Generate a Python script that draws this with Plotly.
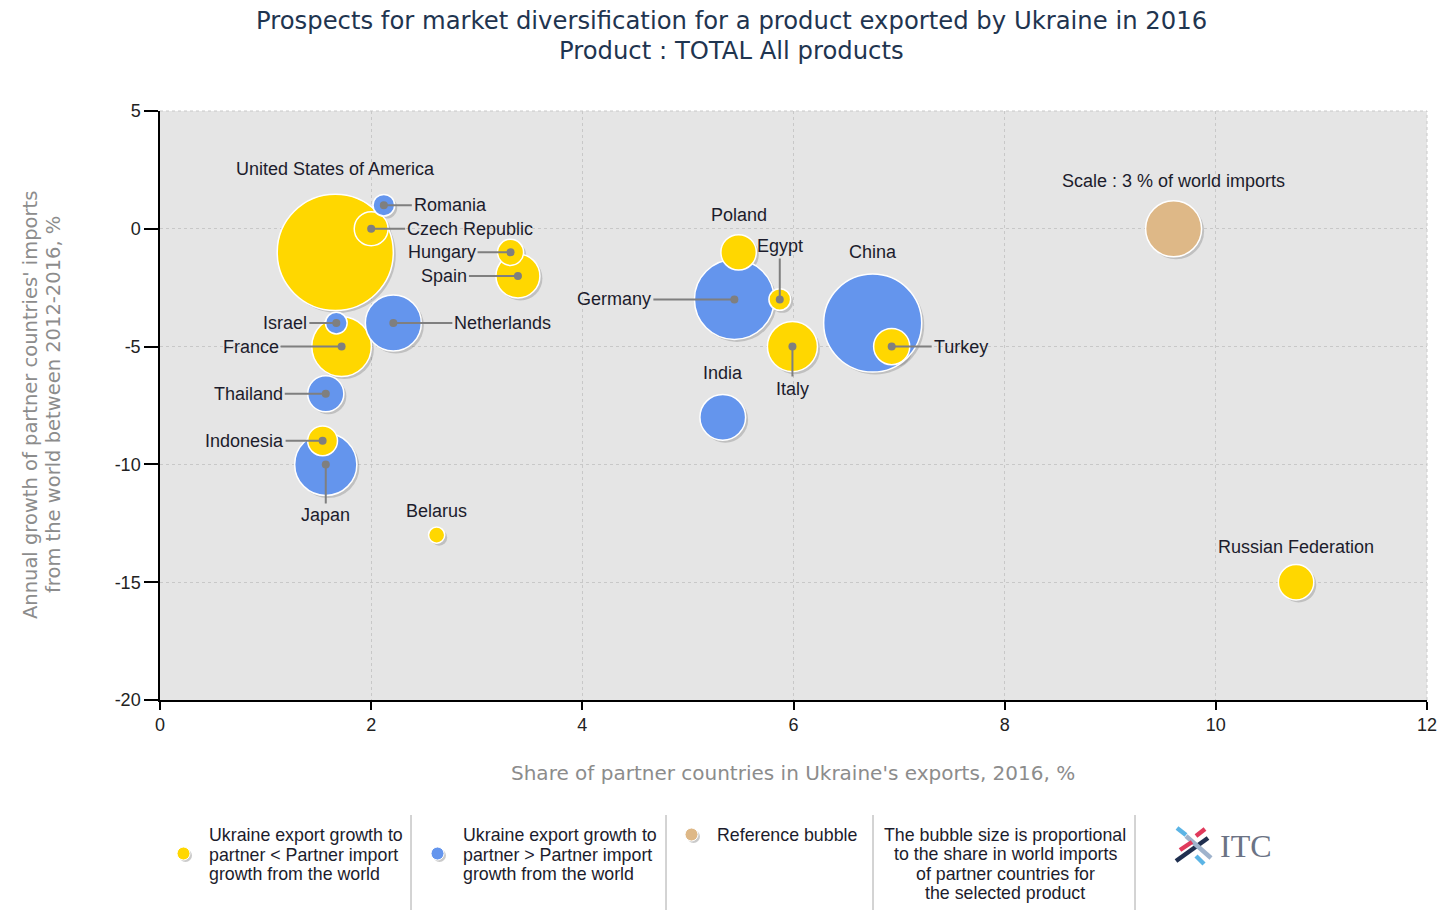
import plotly.graph_objects as go

# ---------------- data ----------------
countries = ["United States of America", "Romania", "Czech Republic", "Hungary", "Spain",
             "Israel", "Netherlands", "France", "Thailand", "Indonesia", "Japan", "Belarus",
             "Poland", "Egypt", "Germany", "Italy", "China", "Turkey", "India",
             "Russian Federation"]
share_in_exports = [1.66, 2.12, 2.00, 3.32, 3.39, 1.67, 2.21, 1.72, 1.57, 1.54, 1.57, 2.62,
                    5.48, 5.87, 5.44, 5.99, 6.75, 6.93, 5.33, 10.76]
import_growth = [-1, 1, 0, -1, -2, -4, -4, -5, -7, -9, -10, -13,
                 -1, -3, -3, -5, -4, -5, -8, -15]
world_import_share = [12.9, 0.45, 1.1, 0.65, 1.85, 0.45, 3.0, 3.4, 1.25, 0.85, 3.7, 0.25,
                      1.2, 0.45, 6.1, 2.4, 9.2, 1.25, 2.0, 1.2]
# "lower": Ukraine export growth < partner import growth ; "higher": the opposite
growth_group = ["lower", "higher", "lower", "lower", "lower", "higher", "higher", "lower",
                "higher", "lower", "higher", "lower", "lower", "lower", "higher", "lower",
                "higher", "lower", "higher", "lower"]

reference_label = "Scale : 3 % of world imports"
reference_x = [9.6]
reference_y = [0]
reference_size = [3]

x_ticks = [0, 2, 4, 6, 8, 10, 12]
y_ticks = [5, 0, -5, -10, -15, -20]

# ---------------- styles ----------------
COLORS = {"lower": "#FFD700", "higher": "#6495ED", "reference": "#DEB887"}
SIZEREF = 4 * 3 / (2 * 56 ** 2)

L, R, T, B = 160, 13, 111, 210
W, H = 1440, 910
PW, PH = W - L - R, H - T - B
XR, YR = (0, 12), (-20, 5)


def px(x):
    return (x - L) / PW


def py(y):
    return (H - B - y) / PH


# label placement: (kind, ax, ay, xanchor, yanchor) or ("above", shift)
label_pos = {
    "United States of America": ("above", 83),
    "Romania": ("arrow", 28, 0, "left", "middle"),
    "Czech Republic": ("arrow", 34, 0, "left", "middle"),
    "Hungary": ("arrow", -33, 0, "right", "middle"),
    "Spain": ("arrow", -49, 0, "right", "middle"),
    "Israel": ("arrow", -27, 0, "right", "middle"),
    "Netherlands": ("arrow", 59, 0, "left", "middle"),
    "France": ("arrow", -61, 0, "right", "middle"),
    "Thailand": ("arrow", -41, 0, "right", "middle"),
    "Indonesia": ("arrow", -37, 0, "right", "middle"),
    "Japan": ("arrow", 0, 39, "center", "top"),
    "Belarus": ("above", 24),
    "Poland": ("above", 37),
    "Egypt": ("arrow", 0, -41, "center", "bottom"),
    "Germany": ("arrow", -81, 0, "right", "middle"),
    "Italy": ("arrow", 0, 30, "center", "top"),
    "China": ("above", 71),
    "Turkey": ("arrow", 40, 0, "left", "middle"),
    "India": ("above", 44),
    "Russian Federation": ("above", 35),
}

LABEL_FONT = dict(family="Liberation Sans, Arial, sans-serif", size=18, color="#1c1c2c")

# draw order: largest first so small bubbles sit on top
order = sorted(range(len(countries)), key=lambda i: -world_import_share[i])
ox = [share_in_exports[i] for i in order]
oy = [import_growth[i] for i in order]
os_ = [world_import_share[i] for i in order]
oc = [COLORS[growth_group[i]] for i in order]
on = [countries[i] for i in order]

dx = 2.5 * (XR[1] - XR[0]) / PW
dy = -2.5 * (YR[1] - YR[0]) / PH

fig = go.Figure()

# shadows
fig.add_trace(go.Scatter(
    x=[v + dx for v in ox + reference_x], y=[v + dy for v in oy + reference_y],
    mode="markers", hoverinfo="skip", showlegend=False,
    marker=dict(size=os_ + reference_size, sizemode="area", sizeref=SIZEREF,
                color="rgba(80,80,80,0.35)", line=dict(width=0))))

fig.add_trace(go.Scatter(
    x=reference_x, y=reference_y, mode="markers", showlegend=False,
    hovertext=[reference_label],
    marker=dict(size=reference_size, sizemode="area", sizeref=SIZEREF,
                color=COLORS["reference"], opacity=1,
                line=dict(color="white", width=1.5))))

fig.add_trace(go.Scatter(
    x=ox, y=oy, mode="markers", showlegend=False, hovertext=on,
    marker=dict(size=os_, sizemode="area", sizeref=SIZEREF, color=oc, opacity=1,
                line=dict(color="white", width=1.5))))

annotations = []
for i, name in enumerate(countries):
    p = label_pos[name]
    if p[0] == "above":
        annotations.append(dict(x=share_in_exports[i], y=import_growth[i], xref="x", yref="y",
                                text=name, showarrow=False, yshift=p[1], font=LABEL_FONT))
    else:
        _, ax, ay, xa, ya = p
        annotations.append(dict(x=share_in_exports[i], y=import_growth[i], xref="x", yref="y",
                                text=name, showarrow=True, ax=ax, ay=ay, axref="pixel",
                                ayref="pixel", xanchor=xa, yanchor=ya, arrowhead=6,
                                arrowsize=1, arrowwidth=2, arrowcolor="#7f7f7f",
                                standoff=0, startstandoff=0, borderpad=1, font=LABEL_FONT))

annotations.append(dict(x=reference_x[0], y=reference_y[0], xref="x", yref="y",
                        text=reference_label, showarrow=False, yshift=48, font=LABEL_FONT))


def text_at(x, y, text, font, xanchor="center", textangle=0):
    annotations.append(dict(x=px(x), y=py(y), xref="paper", yref="paper", showarrow=False,
                            text=text, font=font, xanchor=xanchor, yanchor="middle",
                            textangle=textangle))


# titles
TITLE_FONT = dict(family="DejaVu Sans, Verdana, sans-serif", size=24.3, color="#1f3550")
text_at(731, 21, "Prospects for market diversification for a product exported by Ukraine in 2016",
        TITLE_FONT)
text_at(731, 50, "Product : TOTAL All products", TITLE_FONT)

text_at(793, 773, "Share of partner countries in Ukraine's exports, 2016, %",
        dict(family="DejaVu Sans, Verdana, sans-serif", size=20, color="#8c8c8c"))
text_at(30, 405, "Annual growth of partner countries' imports",
        dict(family="DejaVu Sans, Verdana, sans-serif", size=19.5, color="#8c8c8c"),
        textangle=-90)
text_at(53, 405, "from the world between 2012-2016, %",
        dict(family="DejaVu Sans, Verdana, sans-serif", size=19.5, color="#8c8c8c"),
        textangle=-90)

# custom legend
LEG_FONT = dict(family="Liberation Sans, Arial, sans-serif", size=17.8, color="#1c1c2c")
leg_items = [
    (184, 854, COLORS["lower"], 207, [835, 855, 874],
     ["Ukraine export growth to", "partner < Partner import", "growth from the world"]),
    (438, 854, COLORS["higher"], 461, [835, 855, 874],
     ["Ukraine export growth to", "partner > Partner import", "growth from the world"]),
    (692, 835, COLORS["reference"], 715, [835], ["Reference bubble"]),
]
shapes = []
for cx, cy, col, tx, tys, lines in leg_items:
    shapes.append(dict(type="circle", xref="paper", yref="paper",
                       x0=px(cx - 5), x1=px(cx + 8), y0=py(cy - 5), y1=py(cy + 8),
                       fillcolor="rgba(80,80,80,0.3)", line=dict(width=0)))
    shapes.append(dict(type="circle", xref="paper", yref="paper",
                       x0=px(cx - 7), x1=px(cx + 6), y0=py(cy - 7), y1=py(cy + 6),
                       fillcolor=col, line=dict(color="white", width=1)))
    for ty, line in zip(tys, lines):
        text_at(tx, ty, line, LEG_FONT, xanchor="left")
for ty, line in zip([835, 854, 874, 893],
                    ["The bubble size is proportional", "to the share in world imports",
                     "of partner countries for", "the selected product"]):
    text_at(1005, ty, line, LEG_FONT)
for sx in [411, 666, 873, 1135]:
    shapes.append(dict(type="line", xref="paper", yref="paper", x0=px(sx), x1=px(sx),
                       y0=py(815), y1=py(910), line=dict(color="#a8a8a8", width=1)))

# ITC logo
logo_bars = [
    ((1177, 828), (1186, 835), "#5bb4e5"),
    ((1196, 836), (1205, 829), "#e03a5c"),
    ((1176, 861), (1208, 838), "#1f2f4f"),
    ((1186, 836), (1211, 858), "#9fb3cc"),
    ((1180, 850), (1192, 842), "#e03a5c"),
    ((1196, 856), (1204, 864), "#5bb4e5"),
]
for (x0, y0), (x1, y1), col in logo_bars:
    shapes.append(dict(type="line", xref="paper", yref="paper", x0=px(x0), y0=py(y0),
                       x1=px(x1), y1=py(y1), line=dict(color=col, width=4.5)))
text_at(1218, 846, "ITC",
        dict(family="Liberation Serif, DejaVu Serif, serif", size=32, color="#6b7384"),
        xanchor="left")

# plot border (top / right dotted)
shapes.append(dict(type="line", xref="paper", yref="paper", x0=0, x1=1, y0=1, y1=1,
                   line=dict(color="#c8c8c8", width=1, dash="dot")))
shapes.append(dict(type="line", xref="paper", yref="paper", x0=1, x1=1, y0=0, y1=1,
                   line=dict(color="#c8c8c8", width=1, dash="dot")))

TICK_FONT = dict(family="Liberation Sans, Arial, sans-serif", size=18, color="#222222")
fig.update_layout(
    width=W, height=H, margin=dict(l=L, r=R, t=T, b=B, autoexpand=False),
    paper_bgcolor="white", plot_bgcolor="#e5e5e5",
    showlegend=False, annotations=annotations, shapes=shapes,
    xaxis=dict(range=list(XR), tickvals=x_ticks, ticktext=[str(v) for v in x_ticks],
               showline=True, linecolor="black", linewidth=1.5, ticks="outside",
               ticklen=8, tickcolor="black", tickwidth=1.5, tickfont=TICK_FONT,
               showgrid=True, gridcolor="#c8c8c8", griddash="dot", gridwidth=1,
               zeroline=False, fixedrange=True, automargin=False),
    yaxis=dict(range=list(YR), tickvals=y_ticks, ticktext=[str(v) for v in y_ticks],
               showline=True, linecolor="black", linewidth=1.5, ticks="outside",
               ticklen=14, tickcolor="black", tickwidth=1.5, tickfont=TICK_FONT,
               showgrid=True, gridcolor="#c8c8c8", griddash="dot", gridwidth=1,
               zeroline=False, fixedrange=True, automargin=False),
)

fig.write_html("out.html", config={"displayModeBar": False},
               post_script="document.body.style.margin='0';document.body.style.overflow='hidden';")
